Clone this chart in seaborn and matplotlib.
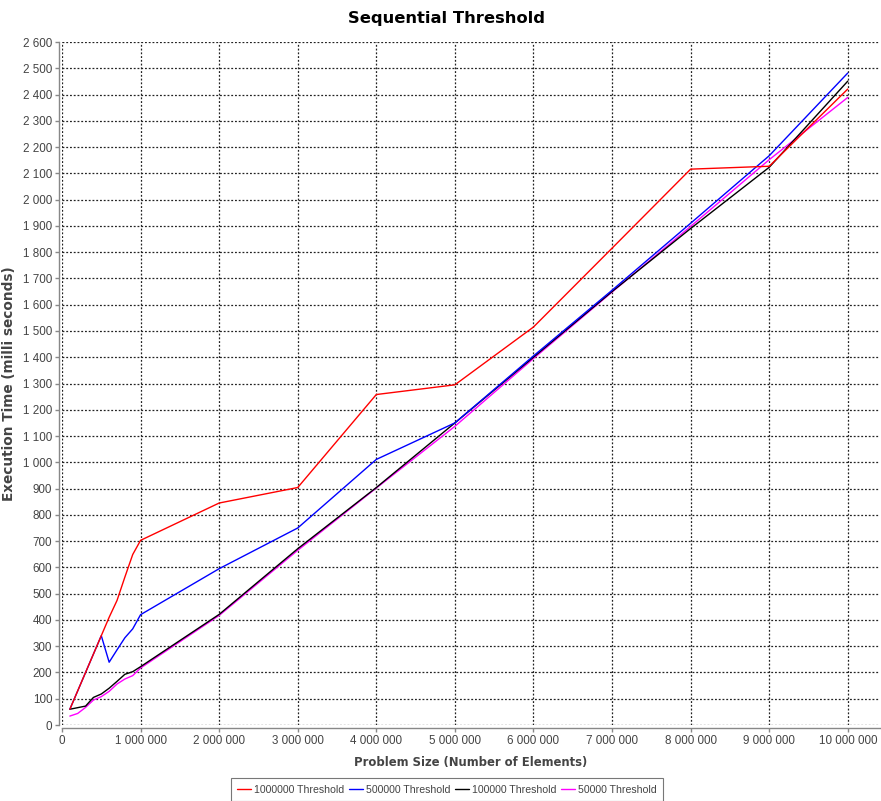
import matplotlib
matplotlib.use("Agg")
import matplotlib.pyplot as plt
from matplotlib.ticker import FuncFormatter, MultipleLocator
from matplotlib.lines import Line2D
import seaborn as sns
import pandas as pd

# Problem sizes (number of elements)
sizes = [100000, 200000, 300000, 400000, 500000, 600000, 700000, 800000, 900000,
         1000000, 2000000, 3000000, 4000000, 5000000, 6000000, 7000000, 8000000,
         9000000, 10000000]

# Execution time in milliseconds for each sequential threshold
t_1000000 = [60, 130, 200, 270, 340, 410, 474, 563, 649, 703, 845, 904, 1258, 1295,
             1515, 1815, 2116, 2127, 2421]
t_500000 = [60, 130, 200, 270, 340, 239, 286, 332, 366, 420, 595, 750, 1011, 1150,
            1405, 1655, 1910, 2167, 2482]
t_100000 = [60, 66, 72, 105, 118, 140, 166, 193, 203, 222, 421, 671, 904, 1150,
            1400, 1650, 1890, 2123, 2451]
t_50000 = [34, 44, 67, 95, 108, 128, 156, 175, 188, 217, 417, 665, 902, 1137,
           1395, 1648, 1898, 2152, 2389]

series_names = ["1000000 Threshold", "500000 Threshold", "100000 Threshold", "50000 Threshold"]
series_values = [t_1000000, t_500000, t_100000, t_50000]
series_colors = ["#ff0000", "#0000ff", "#000000", "#ff00ff"]

df = pd.concat(
    [pd.DataFrame({"size": sizes, "time": vals, "series": name})
     for name, vals in zip(series_names, series_values)],
    ignore_index=True,
)

sns.set_theme(style="white")
plt.rcParams["font.family"] = ["Liberation Sans", "DejaVu Sans"]

fig = plt.figure(figsize=(8.81, 8.01), dpi=100)
ax = fig.add_axes([62 / 881, 1 - 725 / 801, (880 - 62) / 881, (725 - 42) / 801])

# grid first so the data sits on top
ax.set_axisbelow(True)
ax.grid(True, color="#222222", linestyle=(0, (1.5, 1.5)), linewidth=0.9)

# first series is drawn last, so it sits on top
for name, color in reversed(list(zip(series_names, series_colors))):
    sns.lineplot(data=df[df["series"] == name], x="size", y="time", color=color,
                 linewidth=1.0, sort=False, estimator=None, ax=ax, legend=False)

ax.set_xlim(0, 10_410_000)
ax.set_ylim(0, 2600)
ax.xaxis.set_major_locator(MultipleLocator(1_000_000))
ax.yaxis.set_major_locator(MultipleLocator(100))

fmt = FuncFormatter(lambda v, _: f"{v:,.0f}".replace(",", " "))
ax.xaxis.set_major_formatter(fmt)
ax.yaxis.set_major_formatter(fmt)

ax.tick_params(axis="both", which="major", labelsize=8.4, labelcolor="#444444",
               color="#888888", length=3, width=1, direction="out",
               bottom=True, left=True, pad=2)

for side in ("top", "right"):
    ax.spines[side].set_visible(False)
for side in ("left", "bottom"):
    ax.spines[side].set_color("#888888")
    ax.spines[side].set_linewidth(1.0)
    ax.spines[side].set_position(("outward", 2))

ax.set_xlabel("Problem Size (Number of Elements)", fontsize=8.4, fontweight="bold",
              color="#444444", family="DejaVu Sans")
ax.xaxis.set_label_coords(0.5, -31 / 683)
ax.set_ylabel("Execution Time (milli seconds)", fontsize=9.8, fontweight="bold",
              color="#444444", family="DejaVu Sans")
ax.yaxis.set_label_coords(-46 / 818, 0.5)

fig.text(447 / 881, 1 - 19 / 801, "Sequential Threshold", ha="center", va="center",
         fontsize=11.8, fontweight="bold", family="DejaVu Sans", color="black")

handles = [Line2D([0], [0], color=c, linewidth=1.0) for c in series_colors]
leg = fig.legend(handles, series_names, loc="lower center", ncol=4,
                 bbox_to_anchor=(447 / 881, 0.0), fontsize=7.6, frameon=True,
                 fancybox=False, edgecolor="#555555", handlelength=1.3,
                 handletextpad=0.35, columnspacing=0.4, borderpad=0.6,
                 borderaxespad=0.0)
leg.get_frame().set_linewidth(0.8)
for t in leg.get_texts():
    t.set_color("#444444")

fig.savefig("out.png", dpi=100, facecolor="white")
